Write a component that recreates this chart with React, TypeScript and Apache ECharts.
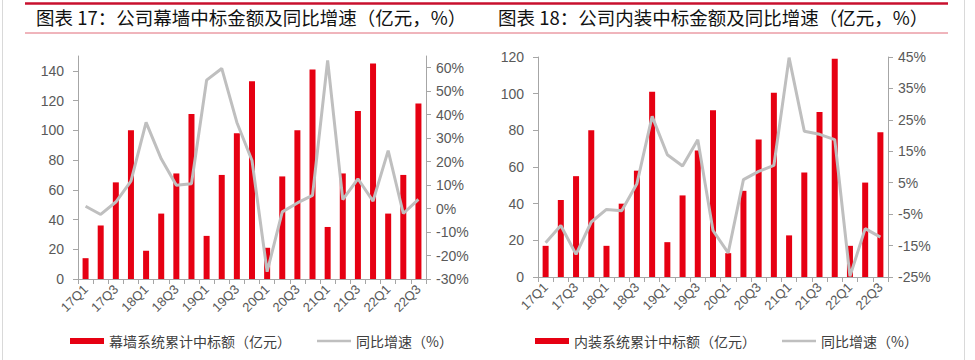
import React, { useEffect, useRef } from "react";
import * as echarts from "echarts";

const categories = [
  "17Q1", "17Q2", "17Q3", "17Q4",
  "18Q1", "18Q2", "18Q3", "18Q4",
  "19Q1", "19Q2", "19Q3", "19Q4",
  "20Q1", "20Q2", "20Q3", "20Q4",
  "21Q1", "21Q2", "21Q3", "21Q4",
  "22Q1", "22Q2", "22Q3",
];

// 幕墙系统累计中标额（亿元）
const curtainAmount = [
  14, 36, 65, 100,
  19, 44, 71, 111,
  29, 70, 98, 133,
  21, 69, 100, 141,
  35, 71, 113, 145,
  44, 70, 118,
];
// 幕墙 同比增速（%）
const curtainYoY = [
  1, -2.5, 2.8, 11.7,
  36.7, 21.2, 9.9, 10.6,
  54.7, 59.7, 36.7, 20.5,
  -26.9, -1.4, 2.4, 5.6,
  63.1, 3.8, 12.7, 3.2,
  24.7, -2.1, 3.9,
];

// 内装系统累计中标额（亿元）
const interiorAmount = [
  17, 42, 55, 80,
  17, 40, 58, 101,
  19, 44.5, 69, 91,
  13, 47, 75, 100.5,
  22.7, 57, 90, 119,
  17, 51.5, 79,
];
// 内装 同比增速（%）
const interiorYoY = [
  -14.1, -8.6, -17.8, -7.5,
  -3.5, -3.9, 4.7, 26.1,
  13.9, 10.3, 18.7, -10.2,
  -17.3, 6, 8.6, 10.5,
  44.8, 21.4, 20.4, 18.7,
  -24.8, -9.6, -12.3,
];

const title1 = "图表 17：公司幕墙中标金额及同比增速（亿元，%）";
const title2 = "图表 18：公司内装中标金额及同比增速（亿元，%）";
const barName1 = "幕墙系统累计中标额（亿元）";
const barName2 = "内装系统累计中标额（亿元）";
const lineName = "同比增速（%）";

const CJK = "'Noto Sans CJK SC', sans-serif";
const LAT = "Arial, 'Liberation Sans', sans-serif";
const AXIS_COLOR = "#a6a6a6";
const LABEL_COLOR = "#595959";
const BAR_COLOR = "#e60012";
const LINE_COLOR = "#bfbfbf";

function yAxis(
  gridIndex: number,
  pos: "left" | "right",
  min: number,
  max: number,
  interval: number,
  pct: boolean,
  showMax: boolean
) {
  return {
    type: "value",
    gridIndex,
    position: pos,
    min,
    max,
    interval,
    splitLine: { show: false },
    axisLine: { show: true, lineStyle: { color: AXIS_COLOR, width: 1 } },
    axisTick: { show: true, length: 5, lineStyle: { color: AXIS_COLOR } },
    axisLabel: {
      showMaxLabel: showMax,
      margin: pct ? 10 : 14,
      fontSize: 14,
      fontFamily: LAT,
      color: LABEL_COLOR,
      formatter: pct ? "{value}%" : "{value}",
    },
  };
}

function xAxis(gridIndex: number) {
  return {
    type: "category",
    gridIndex,
    data: categories,
    boundaryGap: true,
    axisLine: { show: true, lineStyle: { color: AXIS_COLOR, width: 1 } },
    axisTick: { show: true, length: 5, interval: 0, lineStyle: { color: AXIS_COLOR } },
    axisLabel: {
      interval: 1,
      rotate: 45,
      margin: 8,
      fontSize: 13,
      fontFamily: LAT,
      color: LABEL_COLOR,
    },
  };
}

const LINE_ICON = "path://M0,0L40,0L40,3L0,3Z";

export default function App() {
  const ref = useRef<HTMLDivElement>(null);

  useEffect(() => {
    if (!ref.current) return;
    const chart = echarts.init(ref.current, undefined, { renderer: "svg" });
    const legendBase = {
      top: 334,
      itemWidth: 34,
      itemHeight: 6,
      itemGap: 26,
      padding: 0,
      textStyle: { fontSize: 14, color: "#404040", fontFamily: CJK },
    };
    const titleStyle = { fontSize: 18.5, fontWeight: "normal", color: "#111111", fontFamily: CJK };
    chart.setOption({
      animation: false,
      backgroundColor: "#ffffff",
      title: [
        { text: title1, left: 36, top: 8, padding: 0, textStyle: titleStyle },
        { text: title2, left: 498, top: 8, padding: 0, textStyle: titleStyle },
      ],
      legend: [
        {
          ...legendBase,
          left: 70,
          data: [{ name: barName1, icon: "rect" }, { name: lineName, icon: LINE_ICON }],
        },
        {
          ...legendBase,
          left: 535,
          data: [{ name: barName2, icon: "rect" }, { name: lineName, icon: LINE_ICON }],
        },
      ],
      grid: [
        { left: 78, right: 549, top: 56, bottom: 81 },
        { left: 538, right: 87, top: 57, bottom: 83 },
      ],
      xAxis: [xAxis(0), xAxis(1)],
      yAxis: [
        yAxis(0, "left", 0, 150, 20, false, false),
        yAxis(0, "right", -30, 65, 10, true, false),
        yAxis(1, "left", 0, 120, 20, false, true),
        yAxis(1, "right", -25, 45, 10, true, true),
      ],
      series: [
        {
          name: barName1,
          type: "bar",
          xAxisIndex: 0,
          yAxisIndex: 0,
          barWidth: 6,
          itemStyle: { color: BAR_COLOR },
          data: curtainAmount,
        },
        {
          name: lineName,
          type: "line",
          xAxisIndex: 0,
          yAxisIndex: 1,
          symbol: "none",
          lineStyle: { color: LINE_COLOR, width: 3 },
          itemStyle: { color: LINE_COLOR },
          data: curtainYoY,
        },
        {
          name: barName2,
          type: "bar",
          xAxisIndex: 1,
          yAxisIndex: 2,
          barWidth: 6,
          itemStyle: { color: BAR_COLOR },
          data: interiorAmount,
        },
        {
          name: lineName,
          type: "line",
          xAxisIndex: 1,
          yAxisIndex: 3,
          symbol: "none",
          lineStyle: { color: LINE_COLOR, width: 3 },
          itemStyle: { color: LINE_COLOR },
          data: interiorYoY,
        },
      ],
      graphic: [
        {
          type: "line",
          shape: { x1: 25, y1: 3.5, x2: 948, y2: 3.5 },
          style: { stroke: "#c8102e", lineWidth: 2.5 },
          silent: true,
        },
        {
          type: "line",
          shape: { x1: 25, y1: 33, x2: 948, y2: 33 },
          style: { stroke: "#e06a78", lineWidth: 1 },
          silent: true,
        },
        {
          type: "line",
          shape: { x1: 2.5, y1: 0, x2: 2.5, y2: 360 },
          style: { stroke: "#d9d9d9", lineWidth: 1 },
          silent: true,
        },
        {
          type: "line",
          shape: { x1: 964.5, y1: 0, x2: 964.5, y2: 360 },
          style: { stroke: "#d9d9d9", lineWidth: 1 },
          silent: true,
        },
      ],
    });
    return () => chart.dispose();
  }, []);

  return (
    <div
      ref={ref}
      style={{ position: "absolute", left: 0, top: 0, width: 975, height: 360, background: "#fff" }}
    />
  );
}
